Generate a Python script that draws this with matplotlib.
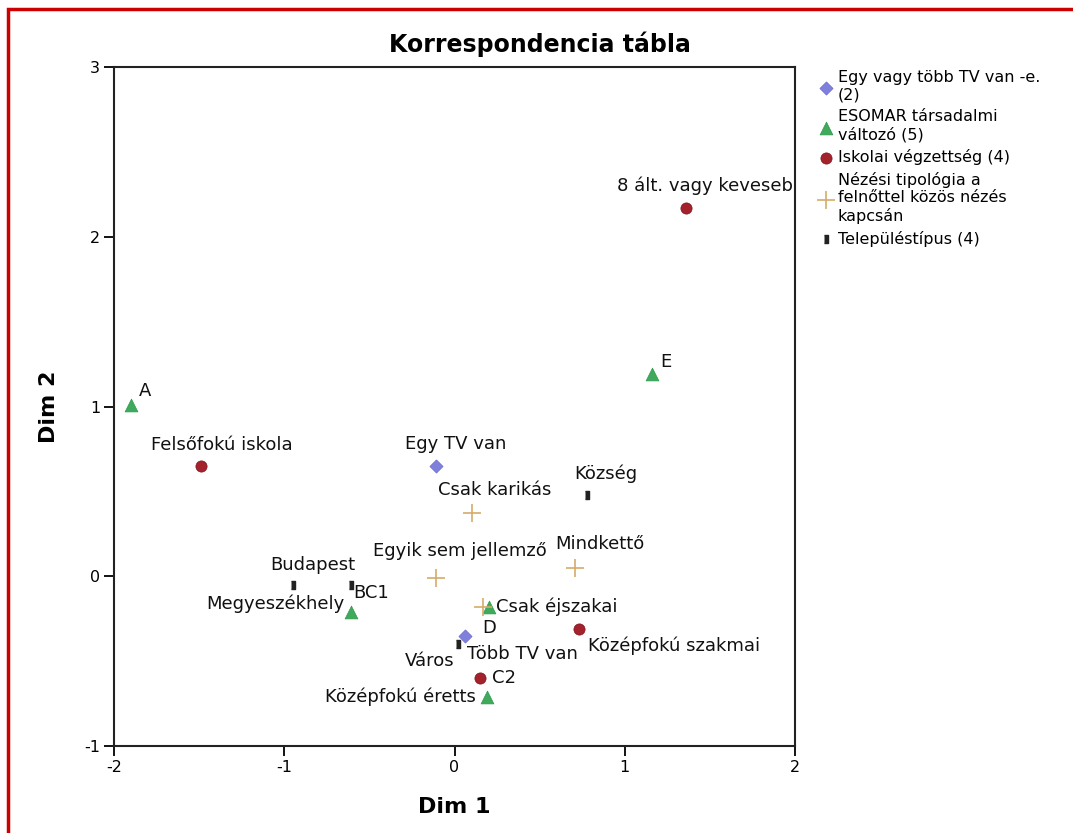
import matplotlib
matplotlib.use('Agg')
import matplotlib.pyplot as plt
from matplotlib.patches import Rectangle

# category points, grouped by variable
tvX = [-0.11, 0.06]
tvY = [0.65, -0.35]
tvLabels = ['Egy TV van', 'Több TV van']

esomarX = [-1.90, -0.61, 0.19, 0.20, 1.16]
esomarY = [1.01, -0.21, -0.71, -0.18, 1.19]
esomarLabels = ['A', 'BC1', 'C2', 'D', 'E']

schoolX = [1.36, 0.73, 0.15, -1.49]
schoolY = [2.17, -0.31, -0.60, 0.65]
schoolLabels = ['8 ált. vagy keveseb', 'Középfokú szakmai', 'Középfokú éretts', 'Felsőfokú iskola']

viewX = [0.10, 0.17, 0.71, -0.11]
viewY = [0.37, -0.18, 0.05, -0.01]
viewLabels = ['Csak karikás', 'Csak éjszakai', 'Mindkettő', 'Egyik sem jellemző']

townX = [-0.95, -0.61, 0.02, 0.78]
townY = [-0.05, -0.05, -0.40, 0.48]
townLabels = ['Budapest', 'Megyeszékhely', 'Város', 'Község']

legendNames = ['Egy vagy több TV van -e.\n(2)', 'ESOMAR társadalmi\nváltozó (5)',
               'Iskolai végzettség (4)', 'Nézési tipológia a\nfelnőttel közös nézés\nkapcsán',
               'Településtípus (4)']

# label placement: (dx, dy in pixels, horizontal alignment)
labelPos = {
    'Egy TV van': (20, 22, 'center'),
    'Több TV van': (2, -18, 'left'),
    'A': (8, 14, 'left'),
    'BC1': (3, 19, 'left'),
    'C2': (5, 19, 'left'),
    'D': (-6, -21, 'left'),
    'E': (8, 12, 'left'),
    '8 ált. vagy keveseb': (19, 22, 'center'),
    'Középfokú szakmai': (9, -17, 'left'),
    'Középfokú éretts': (-4, -19, 'right'),
    'Felsőfokú iskola': (21, 21, 'center'),
    'Csak karikás': (23, 23, 'center'),
    'Csak éjszakai': (13, 0, 'left'),
    'Mindkettő': (24, 24, 'center'),
    'Egyik sem jellemző': (24, 27, 'center'),
    'Budapest': (20, 20, 'center'),
    'Megyeszékhely': (-6, -19, 'right'),
    'Város': (-3, -17, 'right'),
    'Község': (19, 21, 'center'),
}

plt.rcParams['font.family'] = ['DejaVu Sans']
plt.rcParams['axes.unicode_minus'] = False
fig = plt.figure(figsize=(10.73, 8.33), dpi=100)
ax = fig.add_axes([114/1073, 1 - 746/833, 681/1073, 679/833])

townMarker = [(-0.45, -1), (0.45, -1), (0.45, 1), (-0.45, 1)]
groups = [
    (tvX, tvY, tvLabels, dict(marker='D', color='#7f80dc', s=45, edgecolors='#6a6bd0', linewidths=0.5)),
    (esomarX, esomarY, esomarLabels, dict(marker='^', color='#3fa95c', s=85, edgecolors='#2f9a4c', linewidths=0.5)),
    (schoolX, schoolY, schoolLabels, dict(marker='o', color='#a3222c', s=65, edgecolors='#7e1520', linewidths=0.5)),
    (viewX, viewY, viewLabels, dict(marker='+', color='#d6ac6a', s=170, linewidths=1.2)),
    (townX, townY, townLabels, dict(marker=townMarker, color='#222222', s=30)),
]

handles = []
for xs, ys, labels, style in groups:
    h = ax.scatter(xs, ys, zorder=3, **style)
    handles.append(h)
    for x, y, lab in zip(xs, ys, labels):
        dx, dy, ha = labelPos[lab]
        ax.annotate(lab, (x, y), xytext=(dx, dy), textcoords='offset pixels',
                    ha=ha, va='center', fontsize=13, color='#111111', zorder=4)

ax.set_xlim(-2, 2)
ax.set_ylim(-1, 3)
ax.set_xticks([-2, -1, 0, 1, 2])
ax.set_yticks([-1, 0, 1, 2, 3])
ax.tick_params(direction='out', length=7, width=1.3, labelsize=11.5, pad=3)
for sp in ax.spines.values():
    sp.set_linewidth(1.5)
    sp.set_color('#222222')
ax.set_xlabel('Dim 1', fontsize=16, fontweight='bold', labelpad=16)
ax.set_ylabel('Dim 2', fontsize=16, fontweight='bold', labelpad=18)
fig.text(540/1073, 1 - 44/833, 'Korrespondencia tábla', fontsize=17, fontweight='bold',
         ha='center', va='center')

fig.legend(handles, legendNames, loc='upper left', bbox_to_anchor=(810/1073, 1 - 64/833),
           frameon=False, fontsize=11.5, handletextpad=0.15, labelspacing=0.42,
           handlelength=1.2, borderaxespad=0)

# red frame around the picture
fig.patches.append(Rectangle((8/1073, -0.05), 1.2, 1 - 9/833 + 0.05, transform=fig.transFigure,
                             fill=False, edgecolor='#cc0000', linewidth=2.5))

fig.savefig('out.png', dpi=100)
